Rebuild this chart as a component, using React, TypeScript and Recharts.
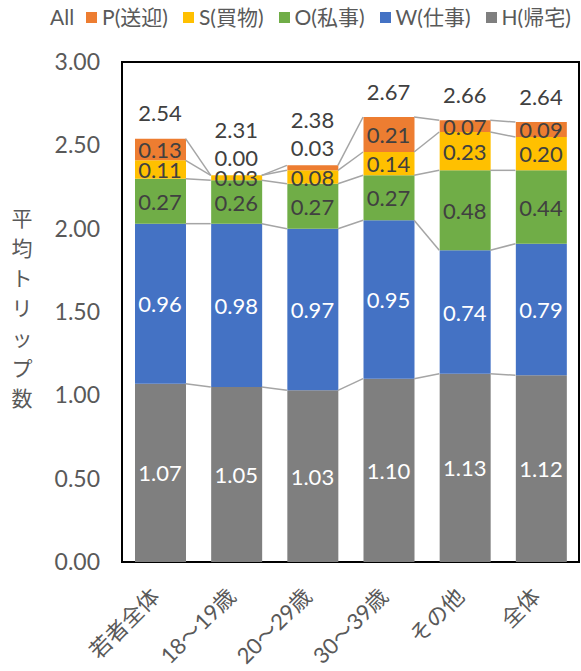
import React from "react";
import { Bar, ComposedChart, LabelList, Line, ReferenceArea, XAxis, YAxis } from "recharts";

const categories = ["若者全体", "18～19歳", "20～29歳", "30～39歳", "その他", "全体"];
const home = [1.07, 1.05, 1.03, 1.1, 1.13, 1.12];
const work = [0.96, 0.98, 0.97, 0.95, 0.74, 0.79];
const privateTrips = [0.27, 0.26, 0.27, 0.27, 0.48, 0.44];
const shopping = [0.11, 0.03, 0.08, 0.14, 0.23, 0.2];
const pickup = [0.13, 0.0, 0.03, 0.21, 0.07, 0.09];
const totals = [2.54, 2.31, 2.38, 2.67, 2.66, 2.64];
const yTicks = [0, 0.5, 1, 1.5, 2, 2.5, 3];

// stacking order, bottom to top
const series = [
  { key: "H", name: "H(帰宅)", values: home, color: "#7F7F7F", text: "#FFFFFF" },
  { key: "W", name: "W(仕事)", values: work, color: "#4472C4", text: "#FFFFFF" },
  { key: "O", name: "O(私事)", values: privateTrips, color: "#70AD47", text: "#404040" },
  { key: "S", name: "S(買物)", values: shopping, color: "#FFC000", text: "#404040" },
  { key: "P", name: "P(送迎)", values: pickup, color: "#ED7D31", text: "#404040" },
];

const data = categories.map((name, i) => {
  const row: Record<string, string | number> = { name };
  for (const s of series) row[s.key] = s.values[i];
  return row;
});

const W = 581;
const H = 671;
const margin = { top: 62, right: 2, bottom: 0, left: 0 };
const yAxisWidth = 122;
const xAxisHeight = 109;
const Y_MAX = 3;
const BAR = 51;
const plotW = W - margin.left - margin.right - yAxisWidth;
const plotH = H - margin.top - margin.bottom - xAxisHeight;
const band = plotW / categories.length;
const ppu = plotH / Y_MAX;
const zeroY = margin.top + plotH;

const font = "Lato, 'Noto Sans CJK JP', sans-serif";
const axisGray = "#595959";

function cumTop(si: number, i: number) {
  let t = 0;
  for (let k = 0; k <= si; k++) t += series[k].values[i];
  return t;
}

const stackTop = (d: any) => series.reduce((t, s) => t + (d[s.key] as number), 0);

// data labels, totals and series lines for one category
function StackLabels(props: any) {
  const i = props.index;
  const cx = props.x;
  const left = cx - BAR / 2;
  const right = cx + BAR / 2;
  const items: React.ReactNode[] = [];
  const topPx = zeroY - cumTop(series.length - 1, i) * ppu;
  let lifted = false;
  series.forEach((s, si) => {
    const v = s.values[i];
    const lo = zeroY - (cumTop(si, i) - v) * ppu;
    const hi = zeroY - cumTop(si, i) * ppu;
    let ly = (lo + hi) / 2;
    if (si === series.length - 1 && v < 0.05) {
      ly = hi - 18;
      lifted = true;
    }
    if (i < categories.length - 1) {
      const ny = zeroY - cumTop(si, i + 1) * ppu;
      items.push(
        <line key={`s${si}`} x1={right} y1={hi} x2={left + band} y2={ny} stroke="#A5A5A5" strokeWidth={1.5} />
      );
    }
    items.push(
      <text key={`l${si}`} x={cx} y={ly} textAnchor="middle" dominantBaseline="central"
        fontSize={22} fill={s.text} fontFamily={font}>
        {v.toFixed(2)}
      </text>
    );
  });
  const ty = lifted ? topPx - 46 : topPx - 26;
  items.push(
    <text key="tot" x={cx} y={ty} textAnchor="middle" dominantBaseline="central"
      fontSize={22} fill="#404040" fontFamily={font}>
      {totals[i].toFixed(2)}
    </text>
  );
  return <g>{items}</g>;
}

function XTick({ x, y, payload }: any) {
  const ax = x - 5;
  const ay = y + 22;
  return (
    <text x={ax} y={ay} transform={`rotate(-45, ${ax}, ${ay})`} textAnchor="end"
      dominantBaseline="central" fontSize={22} fill={axisGray} fontFamily={font}>
      {payload.value}
    </text>
  );
}

function YTitle({ viewBox }: any) {
  const chars = Array.from("平均トリップ数");
  const cy = viewBox.y + viewBox.height / 2 - 5;
  const step = 30;
  return (
    <text fontSize={21} fill={axisGray} fontFamily={font} textAnchor="middle" dominantBaseline="central">
      {chars.map((c, k) => (
        <tspan key={k} x={22} y={cy + (k - (chars.length - 1) / 2) * step}>{c}</tspan>
      ))}
    </text>
  );
}

function LegendRow() {
  const items = [...series].reverse();
  return (
    <div style={{ position: "absolute", left: 50, top: 4, display: "flex", alignItems: "center", gap: 15,
      fontFamily: font, fontSize: 21, lineHeight: "26px", color: axisGray, whiteSpace: "nowrap" }}>
      <span style={{ marginRight: -3 }}>All</span>
      {items.map((s) => (
        <span key={s.key} style={{ display: "flex", alignItems: "center" }}>
          <span style={{ width: 11, height: 11, background: s.color, display: "inline-block", marginRight: 5 }} />
          {s.name}
        </span>
      ))}
    </div>
  );
}

export default function App() {
  return (
    <div style={{ position: "absolute", left: 0, top: 0, width: W, height: H, background: "#fff" }}>
      <ComposedChart width={W} height={H} data={data} margin={margin}>
        <XAxis dataKey="name" height={xAxisHeight} axisLine={false} tickLine={false} interval={0} tick={<XTick />} />
        <YAxis
          width={yAxisWidth}
          domain={[0, Y_MAX]}
          ticks={yTicks}
          tickFormatter={(v: number) => v.toFixed(2)}
          axisLine={false}
          tickLine={false}
          tickMargin={16}
          tick={{ fill: axisGray, fontSize: 23, fontFamily: font }}
          label={<YTitle />}
        />
        {series.map((s) => (
          <Bar key={s.key} dataKey={s.key} name={s.name} stackId="a" fill={s.color} barSize={BAR} isAnimationActive={false} />
        ))}
        <Line dataKey={stackTop} stroke="none" dot={false} activeDot={false} legendType="none" isAnimationActive={false}>
          <LabelList content={<StackLabels />} />
        </Line>
        <ReferenceArea y1={0} y2={Y_MAX} fill="none" stroke="#000" strokeWidth={2} />
      </ComposedChart>
      <LegendRow />
    </div>
  );
}
